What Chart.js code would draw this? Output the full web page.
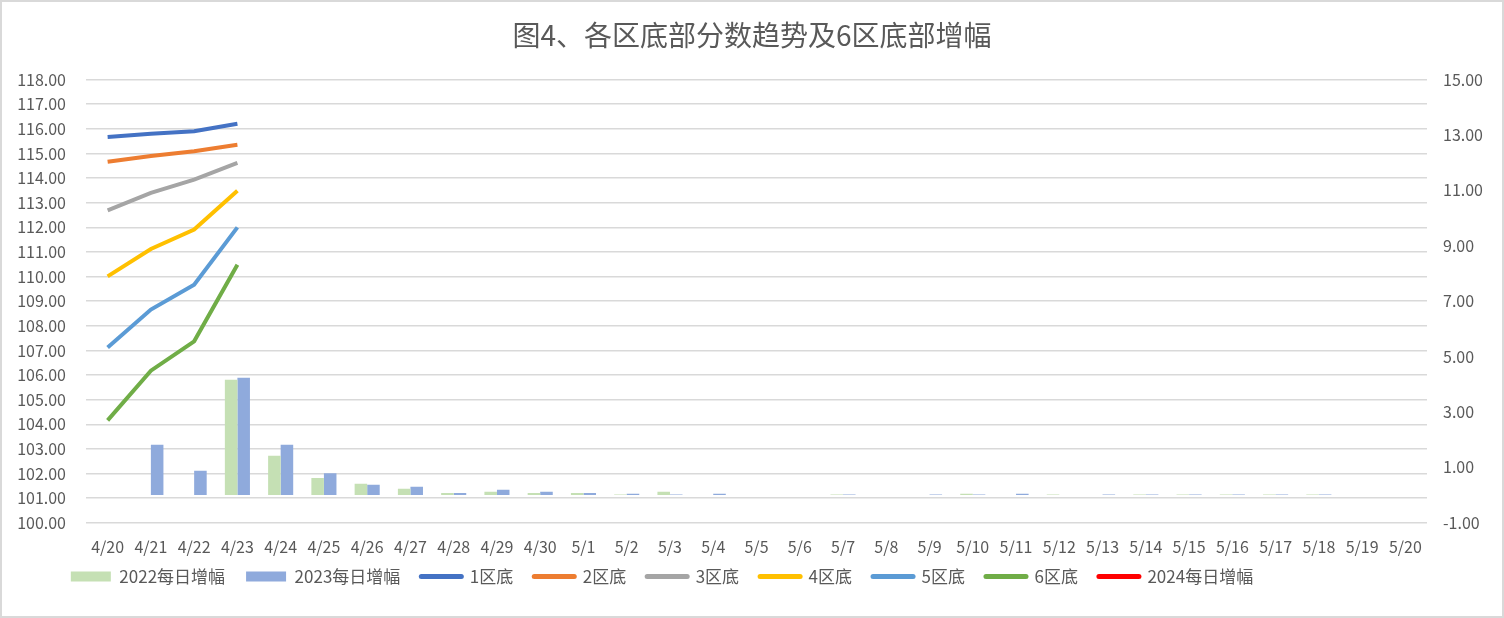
<!DOCTYPE html>
<html>
<head>
<meta charset="utf-8">
<script src="https://cdn.jsdelivr.net/npm/chart.js@4/dist/chart.umd.min.js"></script>
<style>
  html, body { margin: 0; padding: 0; background: #fff; }
  #wrap { position: relative; width: 1500px; height: 614px; border: 2px solid #d9d9d9; }
</style>
</head>
<body>
<div id="wrap"><canvas id="scoreChart"></canvas></div>
<script>
var days = ["4/20", "4/21", "4/22", "4/23", "4/24", "4/25", "4/26", "4/27", "4/28", "4/29", "4/30",
    "5/1", "5/2", "5/3", "5/4", "5/5", "5/6", "5/7", "5/8", "5/9", "5/10", "5/11", "5/12", "5/13",
    "5/14", "5/15", "5/16", "5/17", "5/18", "5/19", "5/20"];

// daily increase (right axis)
var inc2022 = [null, null, null, 4.16, 1.42, 0.62, 0.41, 0.23, 0.08, 0.12, 0.08, 0.08, 0.02, 0.12, null,
    null, null, 0.02, null, null, 0.05, null, 0.02, null, 0.02, 0.02, 0.02, 0.02, 0.02, null, null];
var inc2023 = [null, 1.82, 0.88, 4.24, 1.82, 0.79, 0.37, 0.30, 0.08, 0.19, 0.12, 0.08, 0.05, 0.02, 0.05,
    null, null, 0.02, null, 0.02, 0.02, 0.05, null, 0.02, 0.02, 0.02, 0.02, 0.02, 0.02, null, null];
var inc2024 = [];

// zone bottom scores (left axis)
var zone1 = [115.67, 115.80, 115.90, 116.21];
var zone2 = [114.66, 114.90, 115.09, 115.35];
var zone3 = [112.69, 113.40, 113.94, 114.62];
var zone4 = [110.01, 111.12, 111.91, 113.49];
var zone5 = [107.12, 108.66, 109.67, 112.00];
var zone6 = [104.16, 106.18, 107.37, 110.48];

var leftTicks = { min: 100, max: 118, step: 1 };
var rightTicks = { min: -1, max: 15, step: 2 };

var font = '"Noto Sans CJK SC", "Noto Sans", sans-serif';
var grey = '#595959';

function lineSet(label, data, color) {
    return {
        type: 'line',
        label: label,
        data: data,
        yAxisID: 'y',
        borderColor: color,
        backgroundColor: color,
        borderWidth: 4,
        pointRadius: 0,
        tension: 0,
        fill: false,
        order: 1
    };
}

// nudge the legend to where excel puts it
var legendShift = {
    id: 'legendShift',
    afterLayout: function(chart) {
        var lg = chart.legend;
        if (!lg) return;
        lg.left -= 90;
        lg.right -= 90;
        lg.top -= 17;
        lg.bottom -= 17;
    }
};

var ctx = document.getElementById('scoreChart').getContext('2d');
var chart = new Chart(ctx, {
    type: 'bar',
    data: {
        labels: days,
        datasets: [
            {
                label: '2022每日增幅',
                data: inc2022,
                yAxisID: 'y1',
                backgroundColor: '#C5E0B4',
                categoryPercentage: 0.58,
                barPercentage: 1,
                order: 2
            },
            {
                label: '2023每日增幅',
                data: inc2023,
                yAxisID: 'y1',
                backgroundColor: '#8FAADC',
                categoryPercentage: 0.58,
                barPercentage: 1,
                order: 2
            },
            lineSet('1区底', zone1, '#4472C4'),
            lineSet('2区底', zone2, '#ED7D31'),
            lineSet('3区底', zone3, '#A5A5A5'),
            lineSet('4区底', zone4, '#FFC000'),
            lineSet('5区底', zone5, '#5B9BD5'),
            lineSet('6区底', zone6, '#70AD47'),
            lineSet('2024每日增幅', inc2024, '#FF0000')
        ]
    },
    options: {
        responsive: true,
        maintainAspectRatio: false,
        animation: false,
        layout: { padding: { left: 0, right: 0, top: 0, bottom: 4 } },
        plugins: {
            title: {
                display: true,
                text: '图4、各区底部分数趋势及6区底部增幅',
                color: grey,
                font: { family: font, size: 28, weight: 'normal' },
                padding: { top: 17, bottom: 27 }
            },
            legend: {
                position: 'bottom',
                labels: {
                    color: grey,
                    font: { family: font, size: 17 },
                    usePointStyle: true,
                    pointStyleWidth: 40,
                    boxHeight: 10,
                    padding: 21,
                    sort: function(a, b) { return a.datasetIndex - b.datasetIndex; },
                    generateLabels: function(chart) {
                        var items = Chart.defaults.plugins.legend.labels.generateLabels(chart);
                        items.forEach(function(it) {
                            var ds = chart.data.datasets[it.datasetIndex];
                            if (ds.type === 'line') {
                                it.pointStyle = 'line';
                                it.lineWidth = 5;
                                it.lineCap = 'round';
                                it.strokeStyle = ds.borderColor;
                            } else {
                                it.pointStyle = 'rect';
                                it.lineWidth = 0;
                            }
                        });
                        return items;
                    }
                }
            },
            tooltip: { enabled: false }
        },
        scales: {
            x: {
                grid: { display: false },
                border: { display: false },
                ticks: { color: grey, font: { family: font, size: 16 }, maxRotation: 0, autoSkip: false, padding: 7 }
            },
            y: {
                position: 'left',
                min: leftTicks.min,
                max: leftTicks.max,
                grid: { color: '#D9D9D9', lineWidth: 1.5, drawTicks: false },
                border: { display: false },
                afterFit: function(scale) { scale.width = 84; },
                ticks: {
                    stepSize: leftTicks.step,
                    color: grey,
                    font: { family: font, size: 16 },
                    padding: 20,
                    callback: function(v) { return v.toFixed(2); }
                }
            },
            y1: {
                position: 'right',
                min: rightTicks.min,
                max: rightTicks.max,
                grid: { display: false, drawTicks: false },
                border: { display: false },
                afterFit: function(scale) { scale.width = 75; },
                ticks: {
                    stepSize: rightTicks.step,
                    color: grey,
                    font: { family: font, size: 16 },
                    padding: 16,
                    callback: function(v) { return v.toFixed(2); }
                }
            }
        }
    },
    plugins: [legendShift]
});
</script>
</body>
</html>
